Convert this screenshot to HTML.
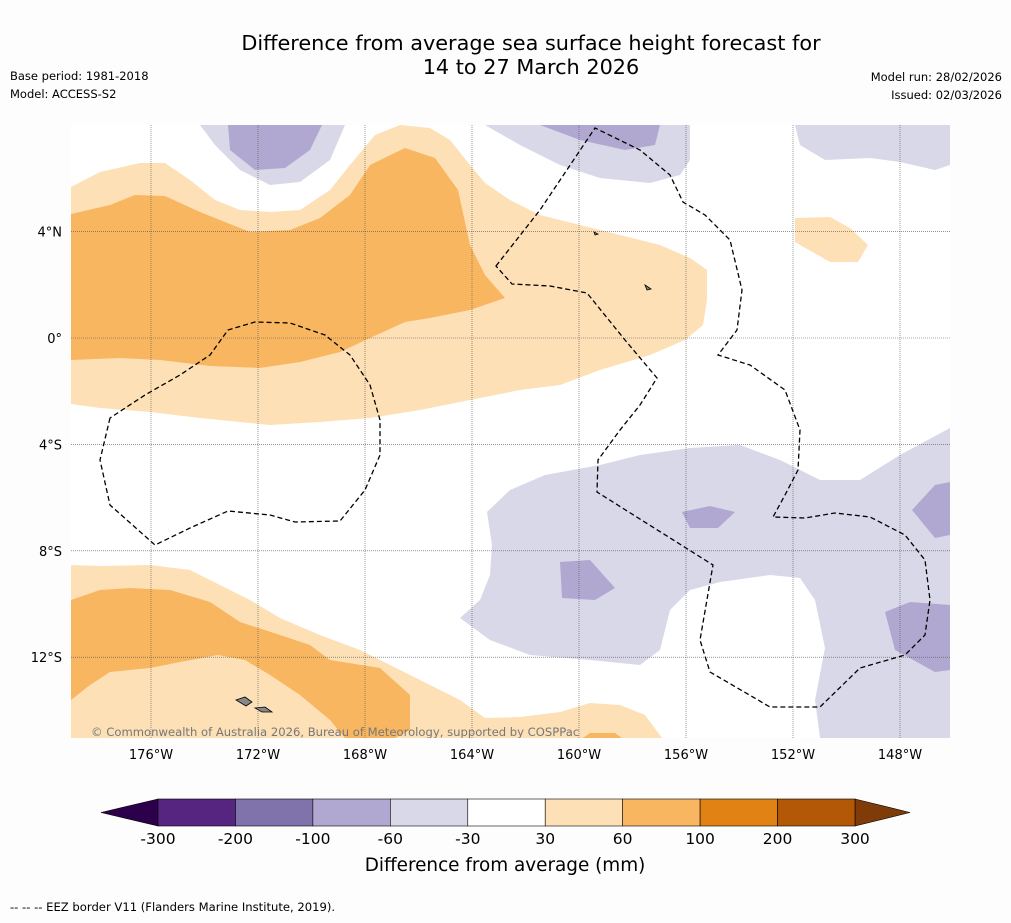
<!DOCTYPE html>
<html><head><meta charset="utf-8"><style>
body{margin:0;background:#fdfdfd;font-family:"DejaVu Sans",sans-serif;}
svg text{font-family:"DejaVu Sans",sans-serif;}
</style></head><body>
<svg width="1011" height="919" xmlns="http://www.w3.org/2000/svg">
<rect width="1011" height="919" fill="#fdfdfd"/>
<text x="531" y="50" font-size="20.8" text-anchor="middle">Difference from average sea surface height forecast for</text>
<text x="531" y="74" font-size="20.8" text-anchor="middle">14 to 27 March 2026</text>
<text x="10" y="80" font-size="11.5">Base period: 1981-2018</text>
<text x="10" y="98" font-size="11.5">Model: ACCESS-S2</text>
<text x="1002" y="81" font-size="11.5" text-anchor="end">Model run: 28/02/2026</text>
<text x="1002" y="99" font-size="11.5" text-anchor="end">Issued: 02/03/2026</text>
<defs><clipPath id="mc"><rect x="71" y="125" width="879" height="613"/></clipPath></defs>
<g clip-path="url(#mc)">
<rect x="71" y="125" width="879" height="613" fill="#ffffff"/>
<path fill="#fde0b6" d="M71,187 L100,172 L140,163 L165,163 L190,180 L215,200 L240,210 L270,212 L300,210 L330,190 L350,165 L375,135 L400,125 L430,128 L450,140 L470,165 L485,183 L510,200 L540,215 L580,225 L620,235 L660,245 L690,258 L707,270 L707,300 L703,325 L685,340 L650,355 L600,370 L560,385 L520,390 L470,400 L420,410 L370,418 L320,422 L270,425 L200,418 L150,412 L100,408 L71,404 Z"/>
<path fill="#f9b660" d="M71,214 L110,205 L135,195 L165,196 L200,212 L250,232 L290,230 L320,218 L350,195 L370,165 L405,148 L435,158 L458,190 L470,245 L485,275 L505,298 L470,310 L430,318 L405,322 L370,338 L340,352 L300,362 L260,368 L210,366 L160,360 L120,358 L71,360 Z"/>
<path fill="#fde0b6" d="M71,565 L100,566 L150,565 L190,570 L220,585 L250,600 L280,618 L320,635 L360,650 L390,665 L420,680 L460,700 L485,718 L520,717 L560,712 L590,703 L620,705 L645,715 L662,738 L71,738 Z"/>
<path fill="#f9b660" d="M71,600 L100,590 L130,588 L170,590 L210,602 L240,622 L280,635 L310,645 L330,660 L380,668 L410,695 L410,730 L395,738 L345,738 L330,720 L300,695 L270,675 L245,660 L218,655 L180,662 L150,668 L110,672 L90,685 L71,700 Z"/>
<path fill="#f9b660" d="M583,738 L590,733 L615,733 L622,738 Z"/>
<path fill="#fde0b6" d="M795,218 L830,217 L850,228 L868,245 L858,262 L830,262 L795,242 Z"/>
<path fill="#d8d8e9" d="M200,125 L215,145 L240,170 L270,185 L300,182 L330,160 L345,125 Z"/>
<path fill="#b0a8d0" d="M228,125 L230,150 L255,170 L285,168 L310,150 L322,125 Z"/>
<path fill="#d8d8e9" d="M485,125 L520,145 L560,165 L600,178 L650,183 L680,175 L690,160 L690,125 Z"/>
<path fill="#b0a8d0" d="M540,125 L580,140 L625,150 L655,145 L660,125 Z"/>
<path fill="#d8d8e9" d="M795,125 L800,145 L825,160 L870,158 L900,162 L935,170 L950,165 L950,125 Z"/>
<path fill="#d8d8e9" d="M487,512 L510,490 L545,475 L600,465 L640,455 L690,448 L740,445 L780,460 L820,480 L860,480 L900,455 L950,428 L950,738 L820,738 L815,700 L825,648 L815,600 L800,578 L770,575 L720,582 L690,590 L670,610 L660,650 L640,665 L590,660 L530,655 L490,640 L460,618 L480,600 L490,575 L492,545 Z"/>
<path fill="#b0a8d0" d="M560,562 L590,560 L615,588 L595,600 L562,598 Z"/>
<path fill="#b0a8d0" d="M682,512 L710,506 L735,512 L718,528 L690,528 Z"/>
<path fill="#b0a8d0" d="M912,510 L935,485 L950,482 L950,535 L935,538 Z"/>
<path fill="#b0a8d0" d="M885,612 L910,602 L950,605 L950,670 L935,672 L895,650 Z"/>
<g id="grid" stroke="#555" stroke-width="0.6" stroke-dasharray="1,1"></g>
<path fill="none" stroke="#000" stroke-width="1.3" stroke-dasharray="5,3" d="M496,266 L540,210 L595,128 L640,150 L670,175 L683,202 L705,215 L730,240 L742,290 L737,330 L718,355 L750,365 L785,390 L800,430 L798,470 L785,495 L773,517 L805,518 L835,513 L870,517 L905,535 L925,560 L930,600 L925,635 L905,655 L860,668 L820,707 L770,707 L710,672 L700,640 L713,565 L597,492 L598,460 L620,430 L640,405 L657,378 L625,340 L587,293 L550,286 L512,284 Z"/>
<path fill="none" stroke="#000" stroke-width="1.3" stroke-dasharray="5,3" d="M110,418 L100,460 L110,505 L155,545 L190,528 L228,511 L270,515 L295,522 L340,521 L365,490 L380,455 L380,420 L370,385 L350,355 L325,335 L290,323 L255,322 L228,330 L210,355 L180,375 L145,395 Z"/>
<path fill="#888" stroke="#000" stroke-width="0.8" d="M236,700 L245,697 L252,702 L246,706 Z M255,708 L265,707 L272,712 L262,712 Z M594,232 l4,2 l-3,1 Z M645,285 l6,4 l-4,1 Z"/>
<text x="91" y="736" font-size="11.6" fill="#777">© Commonwealth of Australia 2026, Bureau of Meteorology, supported by COSPPac</text>
</g>
<g id="axes"></g>
<g id="cbar"></g>
<text x="505" y="871" font-size="18.4" text-anchor="middle">Difference from average (mm)</text>
<text x="10" y="911" font-size="11.6">--  --  -- EEZ border V11 (Flanders Marine Institute, 2019).</text>
</svg>
<script>
const lonTicks=[-176,-172,-168,-164,-160,-156,-152,-148];
const latTicks=[4,0,-4,-8,-12];
const cbLevels=[-300,-200,-100,-60,-30,30,60,100,200,300];
const cbColors=["#55257f","#8073ac","#b0a8d0","#d8d8e9","#ffffff","#fde0b6","#f9b660","#e08214","#b35806"];
const NS="http://www.w3.org/2000/svg";
const xLon=l=>151+(l+176)*26.75;
const yLat=l=>338-l*26.6;
function mk(t,a,p){const e=document.createElementNS(NS,t);for(const k in a)e.setAttribute(k,a[k]);p.appendChild(e);return e;}
const grid=document.getElementById('grid'),axes=document.getElementById('axes');
lonTicks.forEach(l=>{const x=xLon(l);
const g=mk('line',{x1:x,x2:x,y1:125,y2:738},grid);


const t=mk('text',{x:x,y:759,'font-size':13,'text-anchor':'middle'},axes);t.textContent=Math.abs(l)+'°W';

});
latTicks.forEach(l=>{const y=yLat(l);
const g=mk('line',{x1:71,x2:950,y1:y,y2:y},grid);


const t=mk('text',{x:62,y:y+5,'font-size':13,'text-anchor':'end'},axes);t.textContent=l===0?'0°':Math.abs(l)+'°'+(l>0?'N':'S');

});
const cb=document.getElementById('cbar');
const cx=i=>158+i*(855-158)/(cbLevels.length-1);
const y0=799,y1=826;
const lt=mk('polygon',{points:`158,${y0} 101,812.5 158,${y1}`,fill:'#2d004b',stroke:'#000','stroke-width':0.6},cb);


const rt=mk('polygon',{points:`855,${y0} 910,812.5 855,${y1}`,fill:'#7f3b08',stroke:'#000','stroke-width':0.6},cb);


cbColors.forEach((c,i)=>{const r=mk('rect',{x:cx(i),y:y0,width:cx(i+1)-cx(i),height:y1-y0,fill:c,stroke:'#000','stroke-width':0.6},cb);

});
cbLevels.forEach((v,i)=>{const t=mk('text',{x:cx(i),y:844,'font-size':15.5,'text-anchor':'middle'},cb);t.textContent=v;

});
</script>
</body></html>
